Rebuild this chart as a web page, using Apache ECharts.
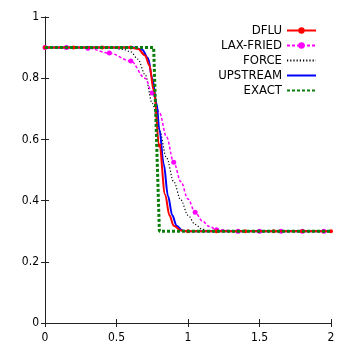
<!DOCTYPE html>
<html>
<head>
<meta charset="UTF-8" />
<script src="https://cdn.jsdelivr.net/npm/echarts@6/dist/echarts.min.js"></script>
<style>
  body { margin: 0; background: #fff; }
  #chart { width: 354px; height: 354px; }
</style>
</head>
<body>
<div id="chart"></div>
<script>
// values: [x, u]
var dflu = [[0,0.9],[0.2,0.9],[0.4,0.9],[0.6,0.9],[0.65,0.896],[0.7,0.874],[0.73,0.842],[0.76,0.76],[0.8,0.58],[0.84,0.42],[0.87,0.352],[0.9,0.318],[0.95,0.302],[1.0,0.3],[1.2,0.3],[1.4,0.3],[1.6,0.3],[1.8,0.3],[2.0,0.3]]
var dfluMarks = [0,0.2,0.4,0.6,0.8,1.0,1.2,1.4,1.6,1.8,2.0]

var laxf = [[0,0.9],[0.15,0.9],[0.3,0.898],[0.45,0.882],[0.6,0.856],[0.7,0.8],[0.75,0.752],[0.8,0.688],[0.85,0.608],[0.9,0.525],[0.95,0.462],[1.0,0.405],[1.05,0.362],[1.1,0.333],[1.15,0.315],[1.2,0.305],[1.35,0.3],[1.5,0.3],[1.65,0.3],[1.8,0.3],[1.95,0.3],[2.0,0.3]]
var laxfMarks = [0,0.15,0.3,0.45,0.6,0.75,0.9,1.05,1.2,1.35,1.5,1.65,1.8,1.95]

var force = [[0,0.9],[0.45,0.9],[0.55,0.894],[0.6,0.886],[0.65,0.862],[0.7,0.812],[0.75,0.718],[0.8,0.628],[0.85,0.54],[0.9,0.462],[0.95,0.402],[1.0,0.352],[1.05,0.322],[1.1,0.306],[1.15,0.3],[2.0,0.3]]

var upstream = [[0,0.9],[0.62,0.9],[0.68,0.893],[0.72,0.866],[0.75,0.8],[0.78,0.718],[0.8,0.632],[0.83,0.52],[0.86,0.415],[0.89,0.352],[0.92,0.318],[0.96,0.302],[1.0,0.3],[2.0,0.3]]

var exact = [[0,0.9],[0.76,0.9],[0.8,0.3],[2.0,0.3]]

var names = ['DFLU', 'LAX-FRIED', 'FORCE', 'UPSTREAM', 'EXACT']
var withSymbol = ['DFLU', 'LAX-FRIED']
var xTicks = [0, 0.5, 1, 1.5, 2]
var yTicks = [0, 0.2, 0.4, 0.6, 0.8, 1]

var FONT = '"Liberation Sans Narrow", "DejaVu Sans Condensed", "Liberation Sans", sans-serif'

function withMarks(arr, marks) {
  return arr.map(function (p) {
    return { value: p, symbol: marks.indexOf(p[0]) >= 0 ? 'circle' : 'none' }
  })
}

var chart = echarts.init(document.getElementById('chart'))

var axisCommon = {
  type: 'value',
  axisLine: { show: true, lineStyle: { color: '#222', width: 1 } },
  axisTick: { show: true, inside: true, length: 4, lineStyle: { color: '#222' } },
  splitLine: { show: false }
}

var option = {
  animation: false,
  grid: { left: 45, right: 23, top: 17, bottom: 31 },
  legend: {
    orient: 'vertical',
    right: 37,
    top: 24,
    padding: 0,
    align: 'right',
    itemWidth: 29,
    itemHeight: 8,
    itemGap: 2,
    textStyle: { fontFamily: FONT, fontSize: 13, lineHeight: 11, color: '#000' },
    // only the two marked series show a point on the legend line
    data: names.map(function (n) {
      return withSymbol.indexOf(n) >= 0 ? n : { name: n, itemStyle: { opacity: 0 } }
    })
  },
  xAxis: [
    Object.assign({}, axisCommon, {
      min: 0, max: 2, interval: 0.5,
      axisLabel: { fontFamily: FONT, fontSize: 12, color: '#000', margin: 9,
        formatter: function (v) { return xTicks.indexOf(v) >= 0 ? String(v) : '' } }
    }),
    Object.assign({}, axisCommon, {
      position: 'top', min: 0, max: 2, interval: 0.5, axisLabel: { show: false }
    })
  ],
  yAxis: [
    Object.assign({}, axisCommon, {
      min: 0, max: 1, interval: 0.2,
      axisLabel: { fontFamily: FONT, fontSize: 12, color: '#000', margin: 6,
        formatter: function (v) {
          var r = Math.round(v * 10) / 10
          return yTicks.indexOf(r) >= 0 ? String(r) : ''
        } }
    }),
    Object.assign({}, axisCommon, {
      position: 'right', min: 0, max: 1, interval: 0.2, axisLabel: { show: false }
    })
  ],
  series: [
    {
      name: 'EXACT', type: 'line', data: exact, symbol: 'none', z: 5,
      itemStyle: { color: '#0a7d0a' },
      lineStyle: { color: '#0a7d0a', width: 3, type: [3, 2] }
    },
    {
      name: 'FORCE', type: 'line', data: force, symbol: 'none', smooth: 0.35, smoothMonotone: 'x', z: 3,
      itemStyle: { color: '#000' },
      lineStyle: { color: '#000', width: 1.2, type: [1.2, 2] }
    },
    {
      name: 'LAX-FRIED', type: 'line', data: withMarks(laxf, laxfMarks), symbol: 'circle', symbolSize: 5,
      smooth: 0.35, smoothMonotone: 'x', z: 3,
      itemStyle: { color: '#ff00ff' },
      lineStyle: { color: '#ff00ff', width: 1.5, type: [3, 2] }
    },
    {
      name: 'UPSTREAM', type: 'line', data: upstream, symbol: 'none', smooth: 0.35, smoothMonotone: 'x', z: 4,
      itemStyle: { color: '#0000ff' },
      lineStyle: { color: '#0000ff', width: 2 }
    },
    {
      name: 'DFLU', type: 'line', data: withMarks(dflu, dfluMarks), symbol: 'circle', symbolSize: 4,
      smooth: 0.35, smoothMonotone: 'x', z: 4,
      itemStyle: { color: '#ff0000' },
      lineStyle: { color: '#ff0000', width: 2 }
    }
  ]
}

chart.setOption(option)
</script>
</body>
</html>
